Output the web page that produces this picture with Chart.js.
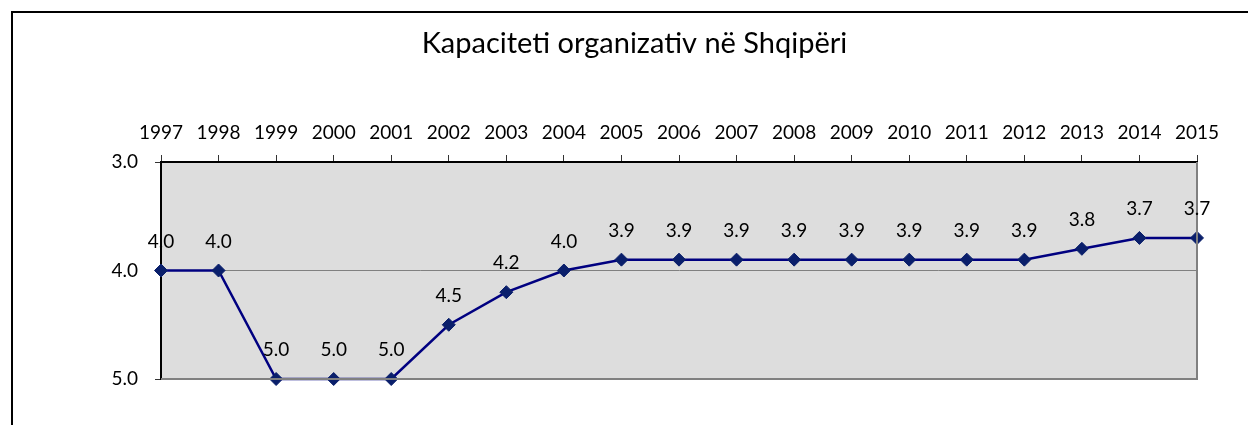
<!DOCTYPE html>
<html>
<head>
<meta charset="utf-8">
<script src="https://cdn.jsdelivr.net/npm/chart.js@4"></script>
<style>
html,body{margin:0;padding:0;background:#fff;}
canvas{display:block;}
</style>
</head>
<body>
<canvas id="c" width="1248" height="425"></canvas>
<script>
const titleText = "Kapaciteti organizativ në Shqipëri";
const years = ["1997","1998","1999","2000","2001","2002","2003","2004","2005","2006","2007","2008","2009","2010","2011","2012","2013","2014","2015"];
const capacity = [4.0,4.0,5.0,5.0,5.0,4.5,4.2,4.0,3.9,3.9,3.9,3.9,3.9,3.9,3.9,3.9,3.8,3.7,3.7];
const yMin = 3, yMax = 5, yStep = 1;

const FONT = "Lato, 'DejaVu Sans', sans-serif";

const framePlugin = {
  id: 'frame',
  beforeDraw(chart) {
    const ctx = chart.ctx, a = chart.chartArea;
    ctx.save();
    ctx.fillStyle = '#fff';
    ctx.fillRect(0, 0, chart.width, chart.height);
    ctx.strokeStyle = '#000';
    ctx.lineWidth = 2;
    ctx.strokeRect(12, 12, chart.width + 20, chart.height + 20);
    ctx.fillStyle = '#dddddd';
    ctx.fillRect(a.left, a.top, a.right - a.left, a.bottom - a.top);
    ctx.restore();
  },
  afterDatasetsDraw(chart) {
    const ctx = chart.ctx, a = chart.chartArea;
    ctx.save();
    ctx.strokeStyle = '#808080';
    ctx.lineWidth = 2;
    ctx.beginPath();
    ctx.moveTo(a.left, a.bottom);
    ctx.lineTo(a.right, a.bottom);
    ctx.lineTo(a.right, a.top);
    ctx.stroke();
    ctx.restore();
  },
  afterDraw(chart) {
    const ctx = chart.ctx;
    const meta = chart.getDatasetMeta(0);
    ctx.save();
    ctx.font = "19px " + FONT;
    ctx.fillStyle = '#000';
    ctx.textAlign = 'center';
    ctx.textBaseline = 'alphabetic';
    meta.data.forEach((pt, i) => {
      ctx.fillText(capacity[i].toFixed(1), pt.x, pt.y - 23);
    });
    ctx.restore();
  }
};

new Chart(document.getElementById('c'), {
  type: 'line',
  data: {
    labels: years,
    datasets: [{
      data: capacity,
      borderColor: '#000080',
      borderWidth: 2.5,
      pointStyle: 'rectRot',
      pointRadius: 6.5,
      pointHoverRadius: 6.5,
      pointBackgroundColor: '#0a1f6b',
      pointBorderColor: '#0a1f6b',
      pointBorderWidth: 1,
      tension: 0,
      clip: false
    }]
  },
  options: {
    responsive: false,
    animation: false,
    events: [],
    layout: { padding: { left: 72, top: 0, right: 51, bottom: 46 } },
    plugins: {
      legend: { display: false },
      tooltip: { enabled: false },
      title: {
        display: true,
        text: titleText,
        color: '#000',
        font: { family: FONT, size: 29, weight: 'normal', lineHeight: 1.2 },
        padding: { top: 26, bottom: 0 }
      }
    },
    scales: {
      x: {
        position: 'top',
        offset: false,
        afterFit(s) { s.height = 101.2; },
        grid: { drawOnChartArea: false, drawTicks: true, tickLength: 7, tickColor: '#333', color: '#333' },
        border: { display: true, color: '#000', width: 2 },
        ticks: { color: '#000', font: { family: FONT, size: 19 }, padding: 11, maxRotation: 0, autoSkip: false }
      },
      y: {
        reverse: true,
        min: yMin,
        max: yMax,
        afterFit(s) { s.width = 89; },
        grid: { drawOnChartArea: true, drawTicks: true, tickLength: 6, color: '#808080', tickColor: '#333', lineWidth: 1 },
        border: { display: true, color: '#000', width: 2 },
        ticks: { stepSize: yStep, color: '#000', font: { family: FONT, size: 19 }, padding: 17,
                 callback: v => Number(v).toFixed(1) }
      }
    }
  },
  plugins: [framePlugin]
});
</script>
</body>
</html>
